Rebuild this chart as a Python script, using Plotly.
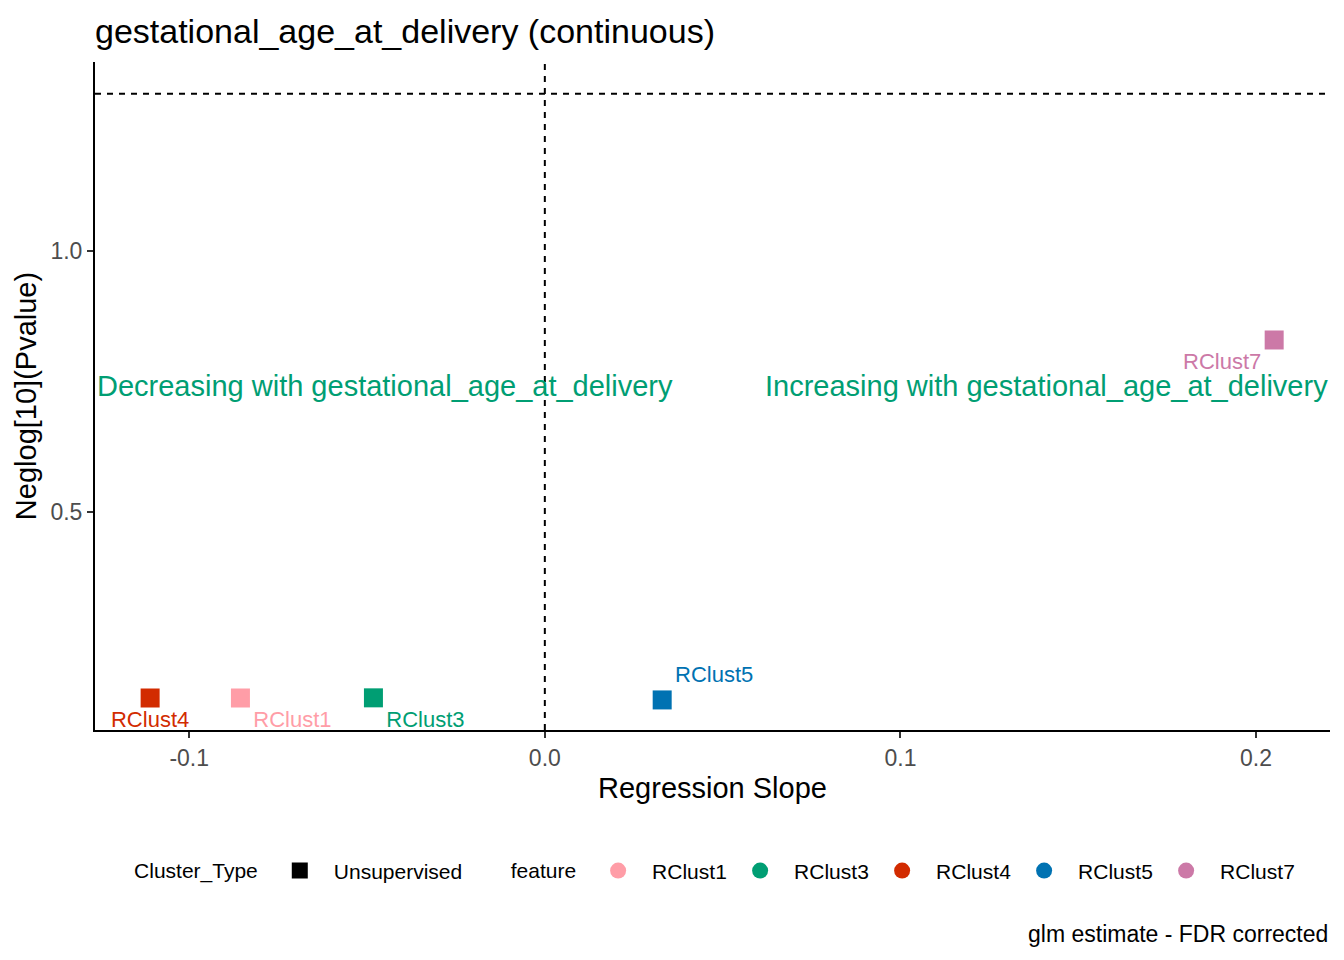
""" Volcano-style slope plot for gestational_age_at_delivery. """

import plotly.graph_objects as go

# data
features = ["RClust1", "RClust3", "RClust4", "RClust5", "RClust7"]
slopes = [-0.0856, -0.0482, -0.1110, 0.0330, 0.2051]
neglog_p = [0.1437, 0.1440, 0.1437, 0.1400, 0.8295]
colors = ["#FF9DA7", "#009E73", "#D22B00", "#0072B2", "#CC79A7"]
label_pos = ["bottom right", "bottom right", "bottom center", "top right", "bottom left"]

p_threshold_line = 1.301  # -log10(0.05)
x_range = [-0.1265, 0.2208]
y_range = [0.0824, 1.362]
x_ticks = [-0.1, 0.0, 0.1, 0.2]
x_ticktext = ["-0.1", "0.0", "0.1", "0.2"]
y_ticks = [0.5, 1.0]
y_ticktext = ["0.5", "1.0"]
direction_label_y = 0.741

FONT = "Liberation Sans, Arial, sans-serif"

fig = go.Figure()

# points + labels
for feat, x, y, col, pos in zip(features, slopes, neglog_p, colors, label_pos):
    fig.add_trace(
        go.Scatter(
            x=[x],
            y=[y],
            mode="markers+text",
            text=[feat],
            textposition=pos,
            textfont=dict(family=FONT, size=22, color=col),
            marker=dict(symbol="square", size=19, color=col),
            showlegend=False,
            cliponaxis=False,
        )
    )

# legend: Cluster_Type
fig.add_trace(
    go.Scatter(
        x=[None], y=[None], mode="markers", name="Unsupervised",
        marker=dict(symbol="square", size=18, color="black"),
        legend="legend",
    )
)
# legend: feature
for feat, col in zip(features, colors):
    fig.add_trace(
        go.Scatter(
            x=[None], y=[None], mode="markers", name=feat,
            marker=dict(symbol="circle", size=18, color=col),
            legend="legend2",
        )
    )

# reference lines
fig.add_shape(type="line", xref="x", yref="paper", x0=0, x1=0, y0=0, y1=1,
              line=dict(color="black", width=2, dash="6px,6px"))
fig.add_shape(type="line", xref="paper", yref="y", x0=0, x1=1,
              y0=p_threshold_line, y1=p_threshold_line,
              line=dict(color="black", width=2, dash="6px,6px"))

# direction annotations
fig.add_annotation(x=x_range[0], y=direction_label_y, xref="x", yref="y",
                   text="Decreasing with gestational_age_at_delivery",
                   showarrow=False, xanchor="left",
                   font=dict(family=FONT, size=29, color="#009E73"))
fig.add_annotation(x=x_range[1], y=direction_label_y, xref="x", yref="y",
                   text="Increasing with gestational_age_at_delivery",
                   showarrow=False, xanchor="right",
                   font=dict(family=FONT, size=29, color="#009E73"))

# caption
fig.add_annotation(x=1, y=-0.305, xref="paper", yref="paper",
                   text="glm estimate - FDR corrected", showarrow=False,
                   xanchor="right", yanchor="middle",
                   font=dict(family=FONT, size=23, color="black"))

# page body has an 8px margin, so the figure is 8px smaller
fig.update_layout(
    width=1336,
    height=952,
    plot_bgcolor="white",
    paper_bgcolor="white",
    margin=dict(l=87, r=14, t=54, b=230),
    font=dict(family=FONT, color="black"),
    title=dict(text="gestational_age_at_delivery (continuous)", x=0, xref="paper",
               xanchor="left", y=0.976, yanchor="middle",
               font=dict(family=FONT, size=34, color="black")),
    xaxis=dict(
        range=x_range, tickvals=x_ticks, ticktext=x_ticktext,
        showgrid=False, zeroline=False, showline=True, linecolor="black", linewidth=2,
        ticks="outside", ticklen=6, tickwidth=2, tickcolor="#333333",
        tickfont=dict(family=FONT, size=23, color="#4D4D4D"),
        title=dict(text="Regression Slope", font=dict(family=FONT, size=29), standoff=8),
    ),
    yaxis=dict(
        range=y_range, tickvals=y_ticks, ticktext=y_ticktext,
        showgrid=False, zeroline=False, showline=True, linecolor="black", linewidth=2,
        ticks="outside", ticklen=6, tickwidth=2, tickcolor="#333333",
        tickfont=dict(family=FONT, size=23, color="#4D4D4D"),
        title=dict(text="Neglog[10](Pvalue)", font=dict(family=FONT, size=29), standoff=5),
    ),
    legend=dict(
        orientation="h", x=0.030, y=-0.211, xanchor="left", yanchor="middle",
        title=dict(text="Cluster_Type", side="left", font=dict(family=FONT, size=21)),
        font=dict(family=FONT, size=21, color="black"),
        itemwidth=58,
        bgcolor="rgba(0,0,0,0)",
    ),
    legend2=dict(
        orientation="h", x=0.335, y=-0.211, xanchor="left", yanchor="middle",
        title=dict(text="feature", side="left", font=dict(family=FONT, size=21)),
        font=dict(family=FONT, size=21, color="black"),
        itemwidth=58,
        entrywidth=69,
        bgcolor="rgba(0,0,0,0)",
    ),
)

fig.write_html("out.html")
